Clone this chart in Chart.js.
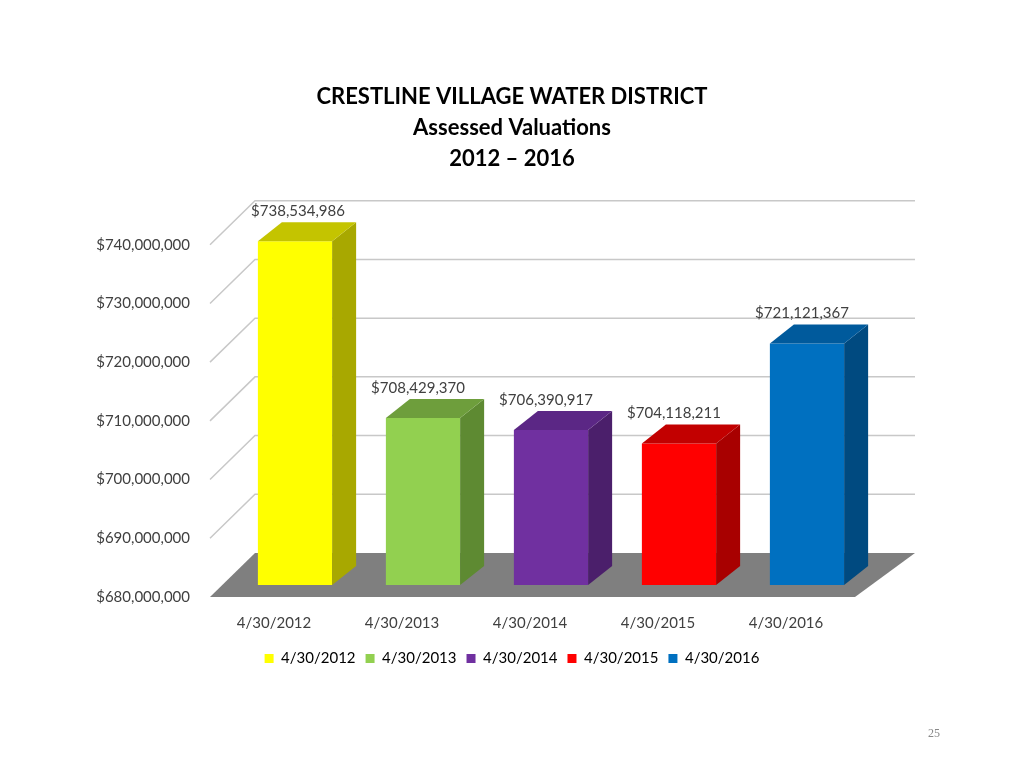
<!DOCTYPE html>
<html><head><meta charset="utf-8">
<script src="https://cdn.jsdelivr.net/npm/chart.js@4.4.0/dist/chart.umd.min.js"></script>
<style>html,body{margin:0;padding:0;background:#fff}#w{position:relative;width:1024px;height:768px}
#pg{position:absolute;left:928px;top:726px;font:12px "Liberation Serif",serif;color:#888}</style>
</head><body><div id="w"><canvas id="c" width="1024" height="768"></canvas><div id="pg">25</div></div>
<script>
const categories = ["4/30/2012","4/30/2013","4/30/2014","4/30/2015","4/30/2016"];
const values = [738534986,708429370,706390917,704118211,721121367];
const valueLabels = ["$738,534,986","$708,429,370","$706,390,917","$704,118,211","$721,121,367"];
const frontColors = ["#FFFF00","#92D050","#7030A0","#FF0000","#0070C0"];
const sideColors = ["#A8A800","#5E8A32","#4B1F6B","#A80000","#004A80"];
const topColors = ["#C4C400","#6E9E3C","#5B2785","#C20000","#005A9C"];
const yMin = 680000000, yMax = 740000000, yStep = 10000000;

const OFF = {x:21, y:-12}, DEP = {x:24, y:-19}, BACK = {x:45, y:-44};
const FONT = 'Lato, "Open Sans", sans-serif';

const plug = {
  id:'threeD',
  beforeDatasetsDraw(chart){
    const {ctx, chartArea:a, scales:{y}} = chart;
    ctx.save();
    ctx.fillStyle = '#7F7F7F';
    ctx.beginPath();
    ctx.moveTo(a.left, a.bottom); ctx.lineTo(a.right+5, a.bottom);
    ctx.lineTo(a.right+5+60, a.bottom+BACK.y); ctx.lineTo(a.left+BACK.x, a.bottom+BACK.y);
    ctx.closePath(); ctx.fill();
    ctx.strokeStyle = '#C8C8C8'; ctx.lineWidth = 1.5;
    for (let v = yMin+yStep; v <= yMax; v += yStep) {
      const py = y.getPixelForValue(v);
      ctx.beginPath();
      ctx.moveTo(a.left, py); ctx.lineTo(a.left+BACK.x, py+BACK.y); ctx.lineTo(a.right+65, py+BACK.y);
      ctx.stroke();
    }
    ctx.restore();
    ctx.save(); ctx.translate(OFF.x, OFF.y);
  },
  afterDatasetsDraw(chart){
    const {ctx, scales:{y}} = chart;
    ctx.restore();
    const meta = chart.getDatasetMeta(0);
    const basePx = y.getPixelForValue(yMin);
    ctx.save();
    meta.data.forEach((b,i)=>{
      const l = b.x - b.width/2 + OFF.x, r = b.x + b.width/2 + OFF.x;
      const t = b.y + OFF.y, bt = basePx + OFF.y;
      ctx.fillStyle = sideColors[i];
      ctx.beginPath(); ctx.moveTo(r,t); ctx.lineTo(r+DEP.x,t+DEP.y); ctx.lineTo(r+DEP.x,bt+DEP.y); ctx.lineTo(r,bt); ctx.closePath(); ctx.fill();
      ctx.fillStyle = topColors[i];
      ctx.beginPath(); ctx.moveTo(l,t); ctx.lineTo(l+DEP.x,t+DEP.y); ctx.lineTo(r+DEP.x,t+DEP.y); ctx.lineTo(r,t); ctx.closePath(); ctx.fill();
      ctx.fillStyle = '#404040'; ctx.font = '15px '+FONT; ctx.textAlign='center'; ctx.textBaseline='middle';
      ctx.fillText(valueLabels[i], b.x + OFF.x - 5 + (i===0?8:0), t - 30);
    });
    ctx.restore();
  }
};

new Chart(document.getElementById('c'), {
  type:'bar',
  data:{labels:categories, datasets:[{data:values, backgroundColor:frontColors, categoryPercentage:1, barPercentage:0.58}]},
  options:{
    responsive:false, animation:false,
    layout:{padding:{left:0,right:0,top:81,bottom:92}},
    plugins:{
      title:{display:true, text:['CRESTLINE VILLAGE WATER DISTRICT','Assessed Valuations','2012 – 2016'],
        color:'#000', font:{family:FONT, size:22, weight:'bold', lineHeight:1.42}, padding:{top:0,bottom:70}},
      legend:{position:'bottom', labels:{
        font:{family:FONT,size:15}, color:'#404040', boxWidth:9, boxHeight:9, padding:10,
        generateLabels:()=>categories.map((c,i)=>({text:c, fillStyle:frontColors[i], strokeStyle:frontColors[i], lineWidth:0, index:i}))},
        onClick:()=>{}},
      tooltip:{enabled:false}
    },
    scales:{
      x:{grid:{display:false}, border:{display:false},
        ticks:{font:{family:FONT,size:15}, color:'#404040', padding:9},
        afterFit(s){s.height=44;}},
      y:{min:yMin, max:yMax, grid:{display:false}, border:{display:false},
        ticks:{stepSize:yStep, font:{family:FONT,size:15}, color:'#404040', padding:12,
          callback:v=>'$'+v.toLocaleString('en-US')},
        afterFit(s){s.width=210;}},
      y2:{position:'right', min:yMin, max:yMax, grid:{display:false}, border:{display:false},
        ticks:{display:false}, afterFit(s){s.width=174;}}
    }
  },
  plugins:[plug]
});
</script></body></html>
